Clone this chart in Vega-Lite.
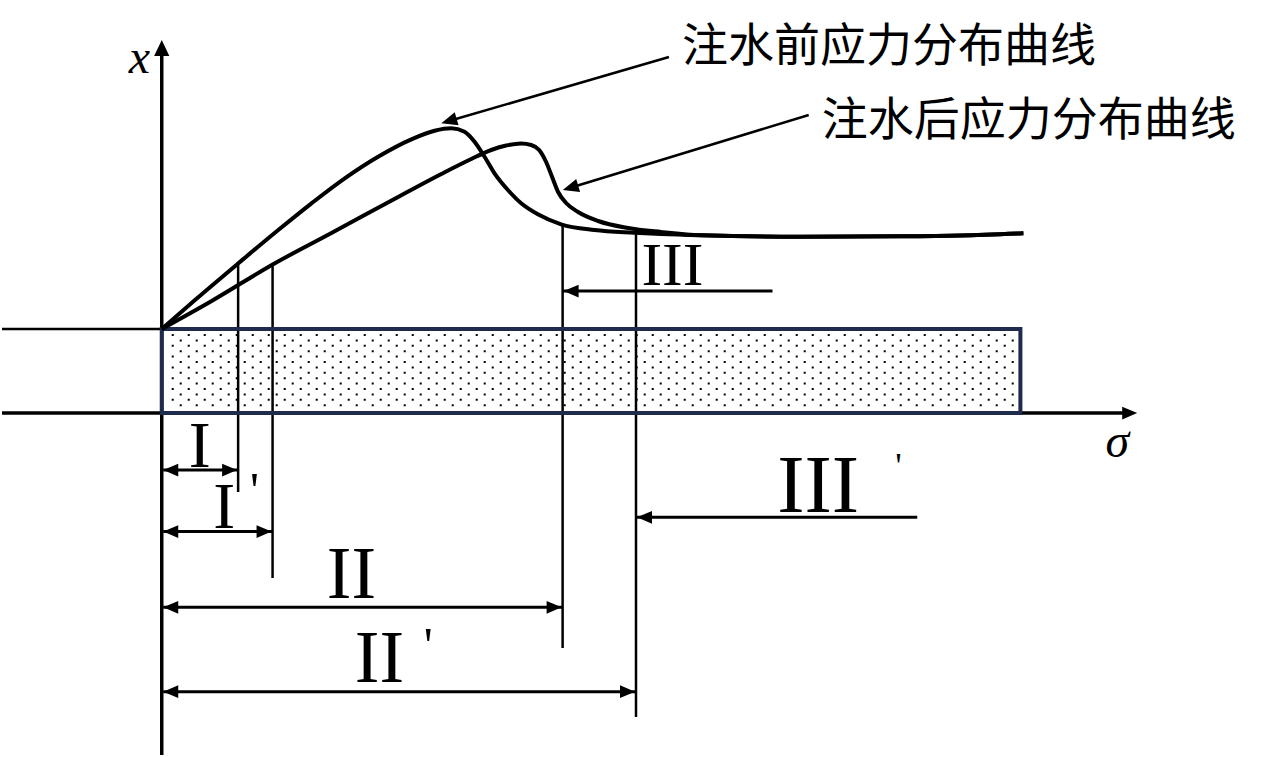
{
  "$schema": "https://vega.github.io/schema/vega-lite/v6.json",
  "width": 1268,
  "height": 758,
  "autosize": {"type": "fit", "contains": "padding"},
  "padding": 0,
  "background": "white",
  "config": {"view": {"stroke": null}},
  "datasets": {
    "curves": [
      {"series": "before", "s": 0, "v": 84},
      {"series": "before", "s": 33.3, "v": 113},
      {"series": "before", "s": 76.7, "v": 149.7},
      {"series": "before", "s": 116.7, "v": 183},
      {"series": "before", "s": 150, "v": 209.7},
      {"series": "before", "s": 183.3, "v": 234.7},
      {"series": "before", "s": 216.7, "v": 256.3},
      {"series": "before", "s": 250, "v": 273.7},
      {"series": "before", "s": 273.3, "v": 282.3},
      {"series": "before", "s": 290, "v": 284.7},
      {"series": "before", "s": 303.3, "v": 281.3},
      {"series": "before", "s": 313.3, "v": 271.3},
      {"series": "before", "s": 323.3, "v": 256.3},
      {"series": "before", "s": 333.3, "v": 239.7},
      {"series": "before", "s": 346.7, "v": 223},
      {"series": "before", "s": 360, "v": 209.7},
      {"series": "before", "s": 376.7, "v": 198.7},
      {"series": "before", "s": 400, "v": 188.7},
      {"series": "before", "s": 433.3, "v": 183},
      {"series": "before", "s": 473.3, "v": 180.3},
      {"series": "before", "s": 500, "v": 179},
      {"series": "before", "s": 540, "v": 177.7},
      {"series": "before", "s": 640, "v": 176.3},
      {"series": "before", "s": 740, "v": 176.7},
      {"series": "before", "s": 800, "v": 177.5},
      {"series": "before", "s": 863, "v": 179.7},
      {"series": "after", "s": 0, "v": 84},
      {"series": "after", "s": 50, "v": 112},
      {"series": "after", "s": 112, "v": 149},
      {"series": "after", "s": 170, "v": 180},
      {"series": "after", "s": 233, "v": 214},
      {"series": "after", "s": 280, "v": 239},
      {"series": "after", "s": 310, "v": 254},
      {"series": "after", "s": 330, "v": 263},
      {"series": "after", "s": 345, "v": 267.5},
      {"series": "after", "s": 360, "v": 269.5},
      {"series": "after", "s": 370, "v": 268},
      {"series": "after", "s": 378, "v": 263},
      {"series": "after", "s": 385, "v": 251},
      {"series": "after", "s": 391, "v": 236},
      {"series": "after", "s": 397, "v": 221},
      {"series": "after", "s": 405, "v": 210},
      {"series": "after", "s": 417, "v": 201},
      {"series": "after", "s": 437, "v": 192},
      {"series": "after", "s": 467, "v": 185},
      {"series": "after", "s": 500, "v": 181},
      {"series": "after", "s": 540, "v": 177.7},
      {"series": "after", "s": 640, "v": 176.3},
      {"series": "after", "s": 740, "v": 176.7},
      {"series": "after", "s": 800, "v": 177.5},
      {"series": "after", "s": 863, "v": 179.7}
    ],
    "dots": [
      {"v": 78, "s1": 10, "s2": 856},
      {"v": 72.6, "s1": 18, "s2": 856},
      {"v": 67.2, "s1": 10, "s2": 856},
      {"v": 61.8, "s1": 18, "s2": 856},
      {"v": 56.4, "s1": 10, "s2": 856},
      {"v": 51, "s1": 18, "s2": 856},
      {"v": 45.6, "s1": 10, "s2": 856},
      {"v": 40.2, "s1": 18, "s2": 856},
      {"v": 34.8, "s1": 10, "s2": 856},
      {"v": 29.4, "s1": 18, "s2": 856},
      {"v": 24, "s1": 10, "s2": 856},
      {"v": 18.6, "s1": 18, "s2": 856},
      {"v": 13.2, "s1": 10, "s2": 856},
      {"v": 7.8, "s1": 18, "s2": 856}
    ],
    "layer": [
      {"s1": 0, "s2": 860, "v1": 0, "v2": 84}
    ],
    "segs": [
      {"id": "y-axis", "kind": "axis", "s1": 0, "v1": -342, "s2": 0, "v2": 362},
      {"id": "sigma-axis", "kind": "axis", "s1": -160, "v1": 0, "s2": 965, "v2": 0},
      {"id": "ledge", "kind": "ledge", "s1": -160, "v1": 84, "s2": 0, "v2": 84},
      {"id": "I", "kind": "divider", "s1": 76.5, "v1": 149.7, "s2": 76.5, "v2": -79},
      {"id": "I2", "kind": "divider", "s1": 111, "v1": 149.5, "s2": 111, "v2": -165},
      {"id": "II", "kind": "divider", "s1": 401.5, "v1": 188.7, "s2": 401.5, "v2": -235},
      {"id": "II2", "kind": "divider", "s1": 475, "v1": 180.3, "s2": 475, "v2": -304},
      {"id": "I", "kind": "dim", "s1": 1.5, "v1": -57, "s2": 76.5, "v2": -57},
      {"id": "I2", "kind": "dim", "s1": 1.5, "v1": -118.5, "s2": 111, "v2": -118.5},
      {"id": "II", "kind": "dim", "s1": 1.5, "v1": -194.3, "s2": 401.5, "v2": -194.3},
      {"id": "II2", "kind": "dim", "s1": 1.5, "v1": -278.7, "s2": 475, "v2": -278.7},
      {"id": "III", "kind": "dim", "s1": 401.5, "v1": 122, "s2": 611.7, "v2": 122},
      {"id": "III2", "kind": "dim", "s1": 475, "v1": -104.3, "s2": 756.7, "v2": -104.3},
      {"id": "before", "kind": "pointer", "s1": 285, "v1": 291.2, "s2": 508, "v2": 356},
      {"id": "after", "kind": "pointer", "s1": 406, "v1": 224.3, "s2": 648, "v2": 298}
    ],
    "heads": [
      {"id": "y-axis", "dir": "up", "s": 0, "v": 373},
      {"id": "sigma-axis", "dir": "right", "s": 977, "v": 0},
      {"id": "I", "dir": "left", "s": 1.5, "v": -57},
      {"id": "I", "dir": "right", "s": 75.5, "v": -57},
      {"id": "I2", "dir": "left", "s": 1.5, "v": -118.5},
      {"id": "I2", "dir": "right", "s": 110, "v": -118.5},
      {"id": "II", "dir": "left", "s": 1.5, "v": -194.3},
      {"id": "II", "dir": "right", "s": 400.5, "v": -194.3},
      {"id": "II2", "dir": "left", "s": 1.5, "v": -278.7},
      {"id": "II2", "dir": "right", "s": 474, "v": -278.7},
      {"id": "III", "dir": "left", "s": 402.5, "v": 122},
      {"id": "III2", "dir": "left", "s": 476, "v": -104.3},
      {"id": "before", "dir": "diag", "s": 280, "v": 289.7},
      {"id": "after", "dir": "diag", "s": 401.7, "v": 223}
    ],
    "labels": [
      {"id": "before", "text": "注水前应力分布曲线", "s": 521, "v": 366},
      {"id": "after", "text": "注水后应力分布曲线", "s": 661, "v": 292},
      {"id": "xsym", "text": "x", "s": -22.5, "v": 340},
      {"id": "sigma", "text": "σ", "s": 957, "v": -44},
      {"id": "I", "text": "I", "s": 38, "v": -54},
      {"id": "I2", "text": "I", "s": 62.5, "v": -115},
      {"id": "II", "text": "II", "s": 190, "v": -185},
      {"id": "II2", "text": "II", "s": 218, "v": -269},
      {"id": "III", "text": "III", "s": 511.5, "v": 128},
      {"id": "III2", "text": "III", "s": 657.5, "v": -99},
      {"id": "p1", "text": "'", "s": 93, "v": -93.5},
      {"id": "p2", "text": "'", "s": 267, "v": -248.5},
      {"id": "p3", "text": "'", "s": 738, "v": -64.5}
    ]
  },
  "layer": [
    {
      "data": {"name": "dots"},
      "mark": {"type": "rule", "color": "#000000", "strokeWidth": 2, "strokeDash": [2, 14], "strokeCap": "butt"},
      "encoding": {
        "x": {"field": "s1", "type": "quantitative", "axis": null, "scale": {"domain": [-160, 1108], "nice": false, "zero": false}},
        "x2": {"field": "s2"},
        "y": {"field": "v", "type": "quantitative", "axis": null, "scale": {"domain": [-345, 413], "nice": false, "zero": false}}
      }
    },
    {
      "data": {"name": "segs"},
      "transform": [{"filter": "datum.kind == 'axis'"}],
      "mark": {"type": "rule", "color": "black", "strokeWidth": 3.5, "strokeCap": "butt"},
      "encoding": {
        "x": {"field": "s1", "type": "quantitative", "axis": null},
        "y": {"field": "v1", "type": "quantitative", "axis": null},
        "x2": {"field": "s2"},
        "y2": {"field": "v2"}
      }
    },
    {
      "data": {"name": "segs"},
      "transform": [{"filter": "datum.kind == 'ledge' || datum.kind == 'divider' || datum.kind == 'pointer'"}],
      "mark": {"type": "rule", "color": "black", "strokeWidth": 2.5, "strokeCap": "butt"},
      "encoding": {
        "x": {"field": "s1", "type": "quantitative", "axis": null},
        "y": {"field": "v1", "type": "quantitative", "axis": null},
        "x2": {"field": "s2"},
        "y2": {"field": "v2"}
      }
    },
    {
      "data": {"name": "segs"},
      "transform": [{"filter": "datum.kind == 'dim'"}],
      "mark": {"type": "rule", "color": "black", "strokeWidth": 3, "strokeCap": "butt"},
      "encoding": {
        "x": {"field": "s1", "type": "quantitative", "axis": null},
        "y": {"field": "v1", "type": "quantitative", "axis": null},
        "x2": {"field": "s2"},
        "y2": {"field": "v2"}
      }
    },
    {
      "data": {"name": "layer"},
      "mark": {"type": "rect", "filled": false, "stroke": "#1f2b4d", "strokeWidth": 4},
      "encoding": {
        "x": {"field": "s1", "type": "quantitative", "axis": null},
        "x2": {"field": "s2"},
        "y": {"field": "v1", "type": "quantitative", "axis": null},
        "y2": {"field": "v2"}
      }
    },
    {
      "data": {"name": "curves"},
      "mark": {"type": "line", "color": "black", "strokeWidth": 4, "interpolate": "monotone"},
      "encoding": {
        "x": {"field": "s", "type": "quantitative", "axis": null},
        "y": {"field": "v", "type": "quantitative", "axis": null},
        "detail": {"field": "series"}
      }
    },
    {
      "data": {"name": "heads"},
      "transform": [{"filter": "datum.dir == 'left'"}],
      "mark": {"type": "point", "shape": "M0,0L2,-0.85L2,0.85Z", "filled": true, "color": "black", "opacity": 1, "strokeWidth": 0, "size": 225, "angle": 0},
      "encoding": {
        "x": {"field": "s", "type": "quantitative", "axis": null},
        "y": {"field": "v", "type": "quantitative", "axis": null}
      }
    },
    {
      "data": {"name": "heads"},
      "transform": [{"filter": "datum.dir == 'right'"}],
      "mark": {"type": "point", "shape": "M0,0L2,-0.85L2,0.85Z", "filled": true, "color": "black", "opacity": 1, "strokeWidth": 0, "size": 225, "angle": 180},
      "encoding": {
        "x": {"field": "s", "type": "quantitative", "axis": null},
        "y": {"field": "v", "type": "quantitative", "axis": null}
      }
    },
    {
      "data": {"name": "heads"},
      "transform": [{"filter": "datum.dir == 'up'"}],
      "mark": {"type": "point", "shape": "M0,0L2,-0.95L2,0.95Z", "filled": true, "color": "black", "opacity": 1, "strokeWidth": 0, "size": 256, "angle": 90},
      "encoding": {
        "x": {"field": "s", "type": "quantitative", "axis": null},
        "y": {"field": "v", "type": "quantitative", "axis": null}
      }
    },
    {
      "data": {"name": "heads"},
      "transform": [{"filter": "datum.dir == 'diag'"}],
      "mark": {"type": "point", "shape": "M0,0L2,-0.85L2,0.85Z", "filled": true, "color": "black", "opacity": 1, "strokeWidth": 0, "size": 256, "angle": 343.5},
      "encoding": {
        "x": {"field": "s", "type": "quantitative", "axis": null},
        "y": {"field": "v", "type": "quantitative", "axis": null}
      }
    },
    {
      "data": {"name": "labels"},
      "transform": [{"filter": {"field": "id", "oneOf": ["before", "after"]}}],
      "mark": {"type": "text", "font": "Noto Sans CJK SC", "fontSize": 46, "fontWeight": "normal", "align": "left", "baseline": "middle", "color": "black"},
      "encoding": {
        "x": {"field": "s", "type": "quantitative", "axis": null},
        "y": {"field": "v", "type": "quantitative", "axis": null},
        "text": {"field": "text"}
      }
    },
    {
      "data": {"name": "labels"},
      "transform": [{"filter": {"field": "id", "oneOf": ["xsym", "sigma"]}}],
      "mark": {"type": "text", "font": "Liberation Serif", "fontStyle": "italic", "fontSize": 48, "align": "center", "baseline": "alphabetic", "color": "black"},
      "encoding": {
        "x": {"field": "s", "type": "quantitative", "axis": null},
        "y": {"field": "v", "type": "quantitative", "axis": null},
        "text": {"field": "text"}
      }
    },
    {
      "data": {"name": "labels"},
      "transform": [{"filter": {"field": "id", "oneOf": ["I", "I2"]}}],
      "mark": {"type": "text", "font": "Liberation Serif", "fontSize": 66, "align": "center", "baseline": "alphabetic", "color": "black"},
      "encoding": {
        "x": {"field": "s", "type": "quantitative", "axis": null},
        "y": {"field": "v", "type": "quantitative", "axis": null},
        "text": {"field": "text"}
      }
    },
    {
      "data": {"name": "labels"},
      "transform": [{"filter": {"field": "id", "oneOf": ["II", "II2"]}}],
      "mark": {"type": "text", "font": "Liberation Serif", "fontSize": 74, "align": "center", "baseline": "alphabetic", "color": "black"},
      "encoding": {
        "x": {"field": "s", "type": "quantitative", "axis": null},
        "y": {"field": "v", "type": "quantitative", "axis": null},
        "text": {"field": "text"}
      }
    },
    {
      "data": {"name": "labels"},
      "transform": [{"filter": {"field": "id", "oneOf": ["III"]}}],
      "mark": {"type": "text", "font": "Liberation Serif", "fontSize": 62, "align": "center", "baseline": "alphabetic", "color": "black"},
      "encoding": {
        "x": {"field": "s", "type": "quantitative", "axis": null},
        "y": {"field": "v", "type": "quantitative", "axis": null},
        "text": {"field": "text"}
      }
    },
    {
      "data": {"name": "labels"},
      "transform": [{"filter": {"field": "id", "oneOf": ["III2"]}}],
      "mark": {"type": "text", "font": "Liberation Serif", "fontSize": 82, "align": "center", "baseline": "alphabetic", "color": "black"},
      "encoding": {
        "x": {"field": "s", "type": "quantitative", "axis": null},
        "y": {"field": "v", "type": "quantitative", "axis": null},
        "text": {"field": "text"}
      }
    },
    {
      "data": {"name": "labels"},
      "transform": [{"filter": {"field": "id", "oneOf": ["p1", "p2"]}}],
      "mark": {"type": "text", "font": "Liberation Serif", "fontSize": 50, "align": "center", "baseline": "alphabetic", "color": "black"},
      "encoding": {
        "x": {"field": "s", "type": "quantitative", "axis": null},
        "y": {"field": "v", "type": "quantitative", "axis": null},
        "text": {"field": "text"}
      }
    },
    {
      "data": {"name": "labels"},
      "transform": [{"filter": {"field": "id", "oneOf": ["p3"]}}],
      "mark": {"type": "text", "font": "Liberation Serif", "fontSize": 36, "align": "center", "baseline": "alphabetic", "color": "black"},
      "encoding": {
        "x": {"field": "s", "type": "quantitative", "axis": null},
        "y": {"field": "v", "type": "quantitative", "axis": null},
        "text": {"field": "text"}
      }
    }
  ]
}
